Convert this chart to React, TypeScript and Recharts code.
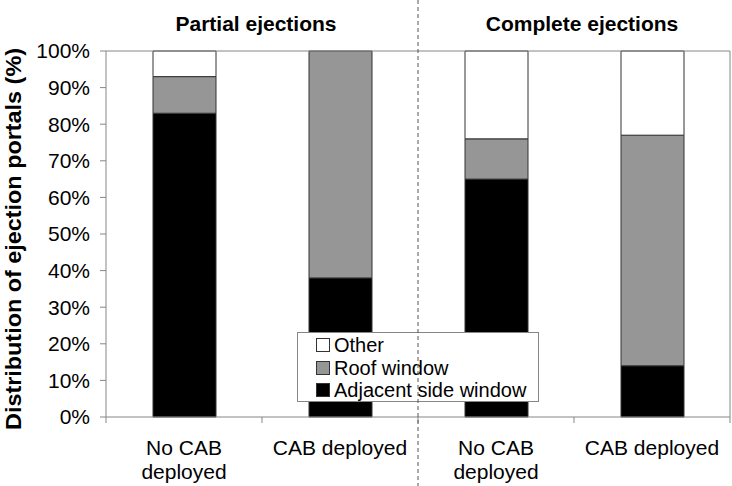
import { BarChart, Bar, XAxis, YAxis, Legend } from "recharts";

const groups = ["Partial ejections", "Complete ejections"];
const categories = ["No CAB\ndeployed", "CAB deployed", "No CAB\ndeployed", "CAB deployed"];
const adjacentSide = [83, 38, 65, 14];
const roofWindow = [10, 62, 11, 63];
const other = [7, 0, 24, 23];
const legendOrder = ["Other", "Roof window", "Adjacent side window"];
const yTicks = [0, 10, 20, 30, 40, 50, 60, 70, 80, 90, 100];

const data = categories.map((label, i) => ({
  id: `c${i}`,
  label,
  adjacent: adjacentSide[i],
  roof: roofWindow[i],
  other: other[i],
}));

const WIDTH = 732;
const HEIGHT = 486;
const MARGIN = { top: 50, right: 1, bottom: 0, left: 0 };
const Y_AXIS_W = 106;
const X_AXIS_H = 69;
const BAND = (WIDTH - MARGIN.left - MARGIN.right - Y_AXIS_W - 1) / categories.length;
const FONT = "'Liberation Sans', Arial, sans-serif";
const AXIS_GREY = "#868686";
const BAR_EDGE = "#333333";

// category labels, plus tick marks on the band edges (not centres)
function CategoryTick(props: any) {
  const { x, y, index } = props;
  const lines = categories[index].split("\n");
  return (
    <g>
      <line x1={x - BAND / 2} x2={x - BAND / 2} y1={y} y2={y + 6} stroke={AXIS_GREY} />
      {index === categories.length - 1 && (
        <line x1={x + BAND / 2} x2={x + BAND / 2} y1={y} y2={y + 6} stroke={AXIS_GREY} />
      )}
      <text x={x} y={y + 38} textAnchor="middle" fontSize={21} fontFamily={FONT} fill="#000">
        {lines.map((l, i) => (
          <tspan key={i} x={x} dy={i === 0 ? 0 : 24}>
            {l}
          </tspan>
        ))}
      </text>
    </g>
  );
}

function YTitle(props: any) {
  const { viewBox } = props;
  const cy = viewBox.y + viewBox.height / 2 + 5;
  return (
    <text
      x={13}
      y={cy}
      transform={`rotate(-90, 13, ${cy})`}
      textAnchor="middle"
      dominantBaseline="central"
      fontSize={22}
      fontWeight="bold"
      fontFamily={FONT}
      fill="#000"
      textLength={382}
      lengthAdjust="spacingAndGlyphs"
    >
      Distribution of ejection portals (%)
    </text>
  );
}

function LegendBox(props: any) {
  const items = [...(props.payload ?? [])].sort(
    (a: any, b: any) => legendOrder.indexOf(a.value) - legendOrder.indexOf(b.value)
  );
  return (
    <div
      style={{
        border: `1px solid ${AXIS_GREY}`,
        background: "#fff",
        padding: "1px 0 1px 18px",
        boxSizing: "border-box",
        width: 242,
        height: 70,
        fontFamily: FONT,
        fontSize: 20,
      }}
    >
      {items.map((e: any) => (
        <div key={e.value} style={{ display: "flex", alignItems: "center", height: 22.5, lineHeight: "22px" }}>
          <span
            style={{
              width: 12,
              height: 12,
              background: e.color,
              border: `1px solid ${BAR_EDGE}`,
              marginRight: 4,
              flexShrink: 0,
            }}
          />
          <span style={{ color: "#000" }}>{e.value}</span>
        </div>
      ))}
    </div>
  );
}

export default function App() {
  const plotLeft = MARGIN.left + Y_AXIS_W;
  const divX = plotLeft + BAND * 2;
  return (
    <div style={{ position: "absolute", left: 0, top: 0, width: WIDTH, height: HEIGHT, background: "#fff" }}>
      <BarChart width={WIDTH} height={HEIGHT} data={data} margin={MARGIN} barSize={63}>
        <XAxis
          dataKey="id"
          axisLine={{ stroke: AXIS_GREY }}
          tickLine={false}
          tickSize={0}
          tickMargin={0}
          height={X_AXIS_H}
          tick={<CategoryTick />}
          interval={0}
        />
        <XAxis
          xAxisId="top"
          dataKey="id"
          orientation="top"
          tick={false}
          tickLine={false}
          axisLine={{ stroke: AXIS_GREY }}
          height={1}
        />
        <YAxis
          domain={[0, 100]}
          ticks={yTicks}
          interval={0}
          width={Y_AXIS_W}
          tickFormatter={(v: number) => `${v}%`}
          tick={{ fontSize: 21, fill: "#000", fontFamily: FONT }}
          tickSize={6}
          tickMargin={10}
          axisLine={{ stroke: AXIS_GREY }}
          tickLine={{ stroke: AXIS_GREY }}
          label={<YTitle />}
        />
        <YAxis
          yAxisId="right"
          orientation="right"
          width={1}
          tick={false}
          tickLine={false}
          axisLine={{ stroke: AXIS_GREY }}
        />
        <Bar dataKey="adjacent" name="Adjacent side window" stackId="a" fill="#000000" stroke={BAR_EDGE} isAnimationActive={false} />
        <Bar dataKey="roof" name="Roof window" stackId="a" fill="#969696" stroke={BAR_EDGE} isAnimationActive={false} />
        <Bar dataKey="other" name="Other" stackId="a" fill="#ffffff" stroke={BAR_EDGE} isAnimationActive={false} />
        <Legend
          verticalAlign="middle"
          align="center"
          content={<LegendBox />}
          wrapperStyle={{ position: "absolute", left: 297, top: 332, width: 242, height: 70 }}
        />
      </BarChart>
      <svg
        width={WIDTH}
        height={HEIGHT}
        style={{ position: "absolute", left: 0, top: 0, pointerEvents: "none" }}
      >
        <line x1={divX} x2={divX} y1={0} y2={HEIGHT} stroke="#555" strokeDasharray="4 3" />
        <text x={256} y={31} textAnchor="middle" fontSize={21} fontWeight="bold" fontFamily={FONT}>
          {groups[0]}
        </text>
        <text x={582} y={31} textAnchor="middle" fontSize={21} fontWeight="bold" fontFamily={FONT}>
          {groups[1]}
        </text>
      </svg>
    </div>
  );
}
